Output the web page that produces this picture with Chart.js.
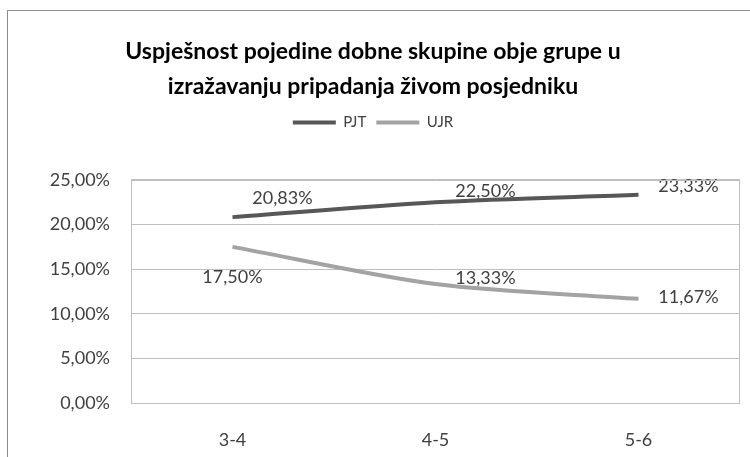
<!DOCTYPE html>
<html>
<head>
<meta charset="utf-8">
<script src="https://cdn.jsdelivr.net/npm/chart.js@4.4.1/dist/chart.umd.min.js"></script>
<style>
  html, body { margin: 0; padding: 0; background: #fff; }
  canvas { display: block; }
</style>
</head>
<body>
<canvas id="chart" width="750" height="457"></canvas>
<script>
// Uspješnost po dobnim skupinama — dvije linije

const categories = ['3-4', '4-5', '5-6'];
const pjtValues = [20.83, 22.50, 23.33];
const ujrValues = [17.50, 13.33, 11.67];
const yTicks = [0, 5, 10, 15, 20, 25];

const FONT = "Lato, 'Open Sans', sans-serif";
const TEXT = '#404040';
const GRID = '#bfbfbf';

const fmt = (v) => v.toFixed(2).replace('.', ',') + '%';

// okvir oko cijelog grafikona + rub područja crtanja
const framePlugin = {
    id: 'frame',
    beforeDraw(chart) {
        const { ctx } = chart;
        ctx.save();
        ctx.fillStyle = '#fff';
        ctx.fillRect(0, 0, chart.width, chart.height);
        ctx.strokeStyle = '#8c8c8c';
        ctx.lineWidth = 1;
        ctx.strokeRect(7.5, 10.5, 800, 500);
        ctx.restore();
    },
    afterDraw(chart) {
        const { ctx, chartArea: a } = chart;
        ctx.save();
        ctx.strokeStyle = GRID;
        ctx.lineWidth = 1;
        ctx.strokeRect(Math.round(a.left) + 0.5, Math.round(a.top) + 0.5,
            Math.round(a.right - a.left) - 1, Math.round(a.bottom - a.top));
        ctx.restore();
    }
};

// razmak ispod legende
const legendGap = {
    id: 'legendGap',
    afterInit(chart) {
        const fit = chart.legend.fit;
        chart.legend.fit = function () {
            fit.call(this);
            this.height += 40;
        };
    }
};

// oznake vrijednosti uz točke
const valueLabels = {
    id: 'valueLabels',
    afterDatasetsDraw(chart) {
        const { ctx } = chart;
        ctx.save();
        ctx.font = '18px ' + FONT;
        ctx.fillStyle = TEXT;
        ctx.textAlign = 'center';
        ctx.textBaseline = 'middle';
        chart.data.datasets.forEach((ds, di) => {
            const meta = chart.getDatasetMeta(di);
            meta.data.forEach((pt, i) => {
                const [dx, dy] = ds.labelShift[i];
                ctx.fillText(fmt(ds.data[i]), pt.x + dx, pt.y + dy);
            });
        });
        ctx.restore();
    }
};

new Chart(document.getElementById('chart'), {
    type: 'line',
    data: {
        labels: categories,
        datasets: [{
            label: 'PJT',
            data: pjtValues,
            borderColor: '#575757',
            backgroundColor: '#575757',
            borderWidth: 4,
            tension: 0.3,
            pointRadius: 0,
            labelShift: [[50, -19], [50, -11], [50, -9]],
        }, {
            label: 'UJR',
            data: ujrValues,
            borderColor: '#a3a3a3',
            backgroundColor: '#a3a3a3',
            borderWidth: 4,
            tension: 0.3,
            pointRadius: 0,
            labelShift: [[0, 30], [50, -6], [50, -2]],
        }]
    },
    options: {
        responsive: false,
        animation: false,
        layout: { padding: { top: 34, left: 6, right: 10, bottom: 6 } },
        plugins: {
            title: {
                display: true,
                text: ['Uspješnost pojedine dobne skupine obje grupe u',
                       'izražavanju pripadanja živom posjedniku'],
                color: '#000',
                font: { family: FONT, size: 23, weight: 'bold', lineHeight: 1.52 },
                padding: { top: 0, bottom: 1 },
            },
            legend: {
                display: true,
                position: 'top',
                labels: {
                    color: TEXT,
                    font: { family: FONT, size: 15 },
                    boxWidth: 43,
                    boxHeight: 4,
                    padding: 10,
                    generateLabels(chart) {
                        return Chart.defaults.plugins.legend.labels.generateLabels(chart)
                            .map((l) => ({ ...l, lineWidth: 0 }));
                    },
                },
            },
            tooltip: { enabled: false },
        },
        scales: {
            x: {
                offset: true,
                afterFit(axis) {
                    axis.height = 48;
                },
                grid: { display: false, drawTicks: false },
                border: { display: false },
                ticks: {
                    color: TEXT,
                    padding: 26,
                    maxRotation: 0,
                    font: { family: FONT, size: 18 },
                },
            },
            y: {
                min: 0,
                max: 25,
                afterBuildTicks(axis) {
                    axis.ticks = yTicks.map((v) => ({ value: v }));
                },
                afterFit(axis) {
                    axis.width = 125;
                },
                grid: { color: GRID, drawTicks: false },
                border: { display: false },
                ticks: {
                    color: TEXT,
                    padding: 21,
                    font: { family: FONT, size: 18 },
                    callback: (v) => fmt(v),
                },
            },
        },
    },
    plugins: [framePlugin, legendGap, valueLabels],
});
</script>
</body>
</html>
